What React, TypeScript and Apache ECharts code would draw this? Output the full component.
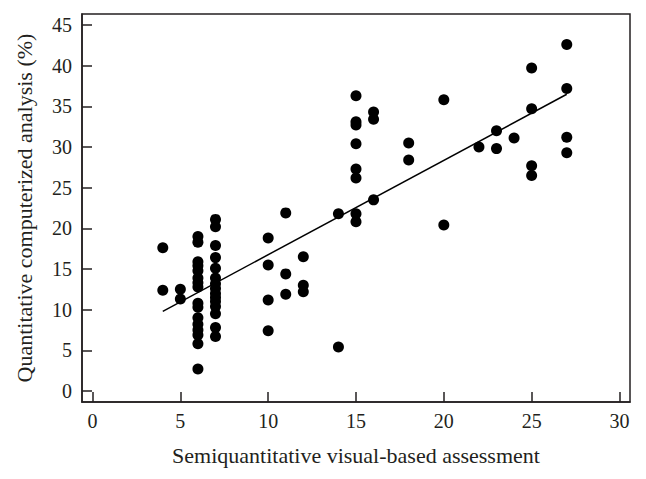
import React, { useEffect, useRef } from "react";
import * as echarts from "echarts";

const xTicks = [0, 5, 10, 15, 20, 25, 30];
const yTicks = [0, 5, 10, 15, 20, 25, 30, 35, 40, 45];

const x4 = [17.6, 12.4];
const x5 = [12.5, 11.3];
const x6 = [19.0, 18.3, 15.9, 15.4, 14.8, 13.9, 13.3, 12.8, 10.8, 10.3, 9.0, 8.2, 7.5, 6.9, 5.8, 2.7];
const x7 = [21.1, 20.2, 17.9, 16.4, 15.1, 13.9, 13.2, 12.6, 12.0, 11.5, 11.0, 10.4, 9.5, 7.8, 6.7];
const x10 = [18.8, 15.5, 11.2, 7.4];
const x11 = [21.9, 14.4, 11.9];
const x12 = [16.5, 13.0, 12.2];
const x14 = [21.8, 5.4];
const x15 = [36.3, 33.1, 32.7, 30.4, 27.3, 26.2, 21.8, 20.8];
const x16 = [34.3, 33.4, 23.5];
const x18 = [30.5, 28.4];
const x20 = [35.8, 20.4];
const x22 = [30.0];
const x23 = [32.0, 29.8];
const x24 = [31.1];
const x25 = [39.7, 34.7, 27.7, 26.5];
const x27 = [42.6, 37.2, 31.2, 29.3];

const groups: [number, number[]][] = [
  [4, x4], [5, x5], [6, x6], [7, x7], [10, x10], [11, x11], [12, x12], [14, x14],
  [15, x15], [16, x16], [18, x18], [20, x20], [22, x22], [23, x23], [24, x24], [25, x25], [27, x27],
];

const fitSlope = 1.16;
const fitIntercept = 5.16;
const fitRange = [4, 27];

export default function App() {
  const ref = useRef<HTMLDivElement>(null);
  useEffect(() => {
    if (!ref.current) return;
    const chart = echarts.init(ref.current, undefined, { renderer: "svg" });
    const points: number[][] = [];
    groups.forEach(([x, ys]) => ys.forEach((y) => points.push([x, y])));
    const fitLine = fitRange.map((x) => [x, fitIntercept + fitSlope * x]);
    const font = "'Liberation Serif', 'DejaVu Serif', serif";
    const ink = "#231f20";
    chart.setOption({
      animation: false,
      backgroundColor: "#ffffff",
      grid: {
        left: 82,
        right: 16,
        top: 14,
        bottom: 77,
        show: true,
        borderColor: ink,
        borderWidth: 1.5,
        containLabel: false,
      },
      xAxis: {
        type: "value",
        min: -0.6,
        max: 30.6,
        name: "Semiquantitative visual-based assessment",
        nameLocation: "middle",
        nameGap: 42,
        nameTextStyle: { fontFamily: font, fontSize: 22, color: ink },
        axisLine: { show: true, onZero: false, lineStyle: { color: ink, width: 1.5 } },
        axisTick: { show: true, inside: true, length: 10, customValues: xTicks, lineStyle: { color: ink, width: 1.5 } },
        axisLabel: { customValues: xTicks, fontFamily: font, fontSize: 20, color: ink, margin: 9 },
        splitLine: { show: false },
      },
      yAxis: {
        type: "value",
        min: -1.35,
        max: 46.35,
        name: "Quantitative computerized analysis (%)",
        nameLocation: "middle",
        nameGap: 47,
        nameTextStyle: { fontFamily: font, fontSize: 22, color: ink },
        axisLine: { show: true, onZero: false, lineStyle: { color: ink, width: 1.5 } },
        axisTick: { show: true, inside: true, length: 10, customValues: yTicks, lineStyle: { color: ink, width: 1.5 } },
        axisLabel: { customValues: yTicks, fontFamily: font, fontSize: 20, color: ink, margin: 10 },
        splitLine: { show: false },
      },
      series: [
        {
          type: "scatter",
          data: points,
          symbol: "circle",
          symbolSize: 11,
          itemStyle: { color: "#000000", opacity: 1 },
          z: 3,
        },
        {
          type: "line",
          data: fitLine,
          symbol: "none",
          lineStyle: { color: "#000000", width: 1.5 },
          z: 2,
        },
      ],
    });
    return () => chart.dispose();
  }, []);
  return <div ref={ref} style={{ width: 646, height: 479, position: "absolute", left: 0, top: 0 }} />;
}
